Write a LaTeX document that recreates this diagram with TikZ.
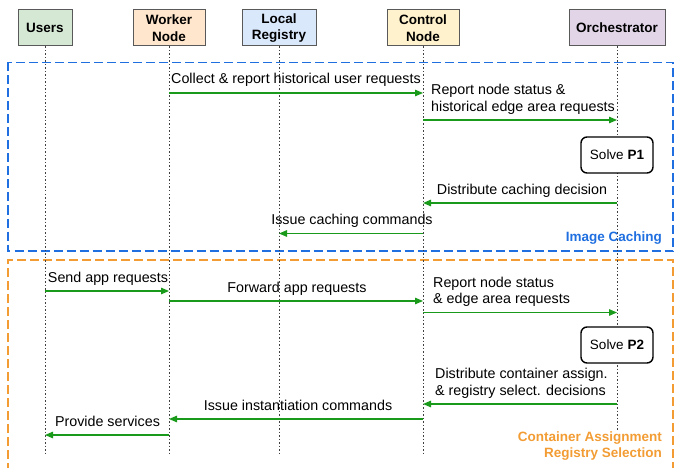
\documentclass[tikz,border=0pt]{standalone}
\usepackage{fontspec}
\setmainfont{Liberation Sans}
\usetikzlibrary{arrows.meta}

\definecolor{msggreen}{HTML}{1A9A1A}
\definecolor{capblue}{HTML}{1F6FE0}
\definecolor{assorange}{HTML}{F29C33}
\definecolor{usfill}{HTML}{D5E8D4}
\definecolor{wkfill}{HTML}{FFE6CC}
\definecolor{lrfill}{HTML}{DAE8FC}
\definecolor{cnfill}{HTML}{FFF2CC}
\definecolor{orfill}{HTML}{E1D5E7}

\newcommand\txtfont{\fontsize{14.3}{16.5}\selectfont}
\newcommand\hdrfont{\fontsize{13.5}{16.5}\selectfont\bfseries}

\tikzset{
  actor/.style={draw=black!65,line width=1pt,minimum height=36pt,inner sep=0pt,align=center,font=\hdrfont},
  life/.style={line width=.9pt,black!75,dash pattern=on 1.5pt off 2pt},
  msg/.style={msggreen,line width=1.3pt,-{Triangle[length=8pt,width=6.5pt]}},
  lbl/.style={inner sep=0pt,font=\txtfont,anchor=base west},
  clbl/.style={lbl,anchor=base},
  solvebox/.style={draw,line width=1.4pt,rounded corners=6pt,fill=white,minimum width=72pt,minimum height=36pt,font=\fontsize{13.5}{16}\selectfont},
  phase/.style={dash pattern=on 9pt off 4pt,line width=1.6pt},
  phaselbl/.style={inner sep=0pt,font=\hdrfont,anchor=base east},
}

\begin{document}
\begin{tikzpicture}[x=1pt,y=-1pt]
\useasboundingbox (0,0) rectangle (675,468);

% phases
\draw[phase,capblue] (8,62.5) rectangle (673,251);
\draw[phase,assorange] (8,472) -- (8,260) -- (673,260) -- (673,472);

% actors
\node[actor,fill=usfill,minimum width=54pt] (us) at (45,28) {Users};
\node[actor,fill=wkfill,minimum width=72pt] (wk) at (169,28) {Worker\\Node};
\node[actor,fill=lrfill,minimum width=74pt] (lr) at (279,28) {Local\\Registry};
\node[actor,fill=cnfill,minimum width=72pt] (cn) at (423,28) {Control\\Node};
\node[actor,fill=orfill,minimum width=96pt] (orc) at (617,28) {Orchestrator};

% lifelines
\foreach \a in {us,wk,lr,cn}
  \draw[life] (\a.south) -- (\a.south |- 0,454);
\draw[life] (orc.south) -- (orc.south |- 0,430);

% image caching
\draw[msg] (wk |- 0,93) -- (cn |- 0,93);
\node[lbl] (m1) at (171,84) {Collect \& report historical user requests};
\draw[msg] (cn |- 0,120) -- (orc |- 0,120);
\node[lbl] (m2a) at (431,95) {Report node status \&};
\node[lbl] (m2b) at (431,111.5) {historical edge area requests};
\node[solvebox] (p1) at (orc |- 0,155) {Solve \textbf{P1}};
\draw[msg] (orc |- 0,203) -- (cn |- 0,203);
\node[clbl] (m3) at (522,194) {Distribute caching decision};
\draw[msg] (cn |- 0,233.5) -- (lr |- 0,233.5);
\node[clbl] (m4) at (352,224.5) {Issue caching commands};
\node[phaselbl,capblue] (capl) at (662,241) {Image Caching};

% container assignment
\draw[msg] (us |- 0,291) -- (wk |- 0,291);
\node[clbl] (m5) at (108,282) {Send app requests};
\draw[msg] (wk |- 0,301) -- (cn |- 0,301);
\node[clbl] (m6) at (297,292) {Forward app requests};
\draw[msg] (cn |- 0,312.5) -- (orc |- 0,312.5);
\node[lbl] (m7a) at (433,287) {Report node status};
\node[lbl] (m7b) at (433,303.5) {\& edge area requests};
\node[solvebox] (p2) at (orc |- 0,345) {Solve \textbf{P2}};
\draw[msg] (orc |- 0,404) -- (cn |- 0,404);
\node[lbl] (m8a) at (435,378.5) {Distribute container assign.};
\node[lbl] (m8b) at (435,395) {\& registry select. decisions};
\draw[msg] (cn |- 0,419) -- (wk |- 0,419);
\node[clbl] (m9) at (298,410) {Issue instantiation commands};
\draw[msg] (wk |- 0,435) -- (us |- 0,435);
\node[clbl] (m10) at (107.5,426) {Provide services};
\node[phaselbl,assorange] (assl) at (662,441.5) {Container Assignment};
\node[phaselbl,assorange] (regl) at (662,457.5) {Registry Selection};

\end{tikzpicture}
\end{document}
